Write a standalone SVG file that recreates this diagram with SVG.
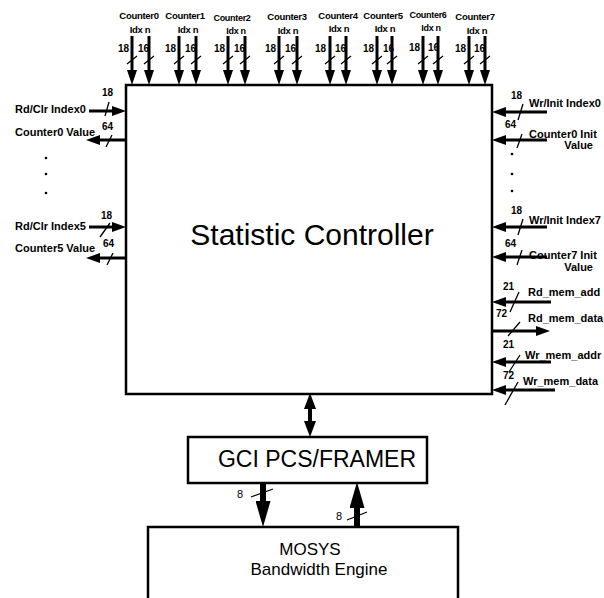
<svg xmlns="http://www.w3.org/2000/svg" width="604" height="598" viewBox="0 0 604 598">
<style>
.box{fill:#fff;stroke:#000;stroke-width:2.5}
.sh{stroke:#000;stroke-width:3;fill:none}
.thick{stroke:#000;stroke-width:6;fill:none}
.mid{stroke:#000;stroke-width:4;fill:none}
.sl{stroke:#000;stroke-width:1.3;fill:none}
.lb{font-family:"Liberation Sans",Arial,sans-serif;font-weight:bold;font-size:11px;fill:#000}
.lt{font-family:"Liberation Sans",Arial,sans-serif;font-weight:bold;font-size:9.5px;fill:#000;letter-spacing:-0.3px}
.nm{font-family:"Liberation Sans",Arial,sans-serif;font-weight:bold;font-size:10px;fill:#000}
.big{font-family:"Liberation Sans",Arial,sans-serif;font-size:30px;fill:#000}
.mdt{font-family:"Liberation Sans",Arial,sans-serif;font-size:23px;fill:#000}
.sm{font-family:"Liberation Sans",Arial,sans-serif;font-size:17px;fill:#000}
.n8{font-family:"Liberation Sans",Arial,sans-serif;font-size:11px;fill:#000}
.dot{fill:#000}
</style>
<defs>
<marker id="ah" markerUnits="userSpaceOnUse" markerWidth="15" markerHeight="10" refX="0" refY="5" orient="auto" viewBox="0 0 15 10">
<path d="M0,0 L15,5 L0,10 z" fill="#000"/>
</marker>
<marker id="ahs" markerUnits="userSpaceOnUse" markerWidth="14" markerHeight="10" refX="0" refY="5" orient="auto" viewBox="0 0 14 10">
<path d="M0,0 L14,5 L0,10 z" fill="#000"/>
</marker>
<marker id="ahb" markerUnits="userSpaceOnUse" markerWidth="26" markerHeight="15" refX="0" refY="7.5" orient="auto" viewBox="0 0 26 15">
<path d="M0,0 L26,7.5 L0,15 z" fill="#000"/>
</marker>
<marker id="ahm" markerUnits="userSpaceOnUse" markerWidth="16" markerHeight="12" refX="0" refY="6" orient="auto" viewBox="0 0 16 12">
<path d="M0,0 L16,6 L0,12 z" fill="#000"/>
</marker>
</defs>
<rect width="604" height="598" fill="#fff"/>

<g id="statistic-controller">
<rect class="box" x="126" y="85" width="366" height="309"/>
<text class="big" x="312" y="245" text-anchor="middle">Statistic Controller</text>
</g>
<g id="gci-pcs-framer">
<rect class="box" x="188" y="437" width="239" height="46"/>
<text class="mdt" x="317" y="467" text-anchor="middle">GCI PCS/FRAMER</text>
</g>
<g id="mosys">
<rect class="box" x="148" y="527" width="310" height="80"/>
<text class="sm" x="310" y="555" text-anchor="middle">MOSYS</text>
<text class="sm" x="319" y="575" text-anchor="middle">Bandwidth Engine</text>
</g>

<g id="top-inputs">
<text class="lt" x="139" y="19" text-anchor="middle">Counter0</text>
<text class="lt" x="140" y="33" text-anchor="middle">Idx n</text>
<text class="lt" x="185" y="19" text-anchor="middle">Counter1</text>
<text class="lt" x="188" y="33" text-anchor="middle">Idx n</text>
<text class="lt" x="232" y="21" text-anchor="middle" style="font-size:9px">Counter2</text>
<text class="lt" x="236" y="34" text-anchor="middle" style="font-size:9px">Idx n</text>
<text class="lt" x="287" y="20" text-anchor="middle">Counter3</text>
<text class="lt" x="288" y="34" text-anchor="middle">Idx n</text>
<text class="lt" x="338" y="19" text-anchor="middle">Counter4</text>
<text class="lt" x="339" y="32" text-anchor="middle">Idx n</text>
<text class="lt" x="383" y="19" text-anchor="middle">Counter5</text>
<text class="lt" x="385" y="32" text-anchor="middle">Idx n</text>
<text class="lt" x="428" y="18" text-anchor="middle" style="font-size:9px">Counter6</text>
<text class="lt" x="431" y="31" text-anchor="middle" style="font-size:9px">Idx n</text>
<text class="lt" x="475" y="20" text-anchor="middle">Counter7</text>
<text class="lt" x="477" y="34" text-anchor="middle">Idx n</text>

<text class="nm" x="129" y="52" text-anchor="end">18</text><text class="nm" x="138" y="52">16</text>
<text class="nm" x="176" y="52" text-anchor="end">18</text><text class="nm" x="185" y="52">16</text>
<text class="nm" x="225" y="52" text-anchor="end">18</text><text class="nm" x="234" y="52">16</text>
<text class="nm" x="276" y="52" text-anchor="end">18</text><text class="nm" x="285" y="52">16</text>
<text class="nm" x="326" y="52" text-anchor="end">18</text><text class="nm" x="335" y="52">16</text>
<text class="nm" x="374" y="52" text-anchor="end">18</text><text class="nm" x="383" y="52">16</text>
<text class="nm" x="420" y="51" text-anchor="end">18</text><text class="nm" x="428" y="51">16</text>
<text class="nm" x="466" y="52" text-anchor="end">18</text><text class="nm" x="474" y="52">16</text>
</g>

<g id="left-ports">
<text class="nm" x="102" y="96">18</text>
<text class="lb" x="15" y="113">Rd/Clr Index0</text>
<text class="nm" x="102" y="130">64</text>
<text class="lb" x="15" y="136">Counter0 Value</text>
<circle class="dot" cx="46" cy="158" r="1.3"/>
<circle class="dot" cx="46" cy="174" r="1.3"/>
<circle class="dot" cx="46" cy="193" r="1.3"/>
<text class="nm" x="101" y="219">18</text>
<text class="lb" x="15" y="230">Rd/Clr Index5</text>
<text class="nm" x="103" y="247">64</text>
<text class="lb" x="15" y="252">Counter5 Value</text>
</g>

<g id="right-ports">
<text class="nm" x="511" y="99">18</text>
<text class="lb" x="529" y="107">Wr/Init Index0</text>
<text class="nm" x="505" y="128">64</text>
<text class="lb" x="529" y="138">Counter0 Init</text>
<text class="lb" x="593" y="149" text-anchor="end">Value</text>
<circle class="dot" cx="512" cy="154" r="1.3"/>
<circle class="dot" cx="512" cy="174" r="1.3"/>
<circle class="dot" cx="512" cy="191" r="1.3"/>
<text class="nm" x="511" y="214">18</text>
<text class="lb" x="529" y="224">Wr/Init Index7</text>
<text class="nm" x="505" y="247">64</text>
<text class="lb" x="529" y="259">Counter7 Init</text>
<text class="lb" x="593" y="271" text-anchor="end">Value</text>
<text class="nm" x="503" y="290">21</text>
<text class="lb" x="528" y="296">Rd_mem_add</text>
<text class="nm" x="496" y="317">72</text>
<text class="lb" x="528" y="322">Rd_mem_data</text>
<text class="nm" x="503" y="348">21</text>
<text class="lb" x="525" y="359">Wr_mem_addr</text>
<text class="nm" x="503" y="379">72</text>
<text class="lb" x="523" y="385">Wr_mem_data</text>
</g>

<g id="connectors">
<!-- top inputs -->
<line class="sh" x1="132" y1="36" x2="132" y2="70" marker-end="url(#ah)"/>
<line class="sh" x1="149" y1="36" x2="149" y2="70" marker-end="url(#ah)"/>
<line class="sh" x1="179" y1="36" x2="179" y2="70" marker-end="url(#ah)"/>
<line class="sh" x1="196" y1="36" x2="196" y2="70" marker-end="url(#ah)"/>
<line class="sh" x1="228" y1="36" x2="228" y2="70" marker-end="url(#ah)"/>
<line class="sh" x1="245" y1="36" x2="245" y2="70" marker-end="url(#ah)"/>
<line class="sh" x1="279" y1="36" x2="279" y2="70" marker-end="url(#ah)"/>
<line class="sh" x1="297" y1="36" x2="297" y2="70" marker-end="url(#ah)"/>
<line class="sh" x1="330" y1="36" x2="330" y2="70" marker-end="url(#ah)"/>
<line class="sh" x1="346" y1="36" x2="346" y2="70" marker-end="url(#ah)"/>
<line class="sh" x1="377" y1="36" x2="377" y2="70" marker-end="url(#ah)"/>
<line class="sh" x1="392" y1="36" x2="392" y2="70" marker-end="url(#ah)"/>
<line class="sh" x1="423" y1="36" x2="423" y2="70" marker-end="url(#ah)"/>
<line class="sh" x1="438" y1="36" x2="438" y2="70" marker-end="url(#ah)"/>
<line class="sh" x1="469" y1="36" x2="469" y2="70" marker-end="url(#ah)"/>
<line class="sh" x1="485" y1="36" x2="485" y2="70" marker-end="url(#ah)"/>
<path class="sl" d="M127,64L137,56M144,64L154,56M174,64L184,56M191,64L201,56M223,64L233,56M240,64L250,56M274,64L284,56M292,64L302,56M325,64L335,56M341,64L351,56M372,64L382,56M387,64L397,56M418,64L428,56M433,64L443,56M464,64L474,56M480,64L490,56"/>
<!-- left -->
<line class="sh" x1="89" y1="111" x2="112" y2="111" marker-end="url(#ahs)"/>
<line class="sh" x1="126" y1="140" x2="100" y2="140" marker-end="url(#ahs)"/>
<line class="sh" x1="89" y1="227" x2="112" y2="227" marker-end="url(#ahs)"/>
<line class="sh" x1="126" y1="258" x2="100" y2="258" marker-end="url(#ahs)"/>
<path class="sl" d="M105,116L109,102M106,147L112,135M100,237L110,223M107,265L113,253"/>
<!-- right -->
<line class="sh" x1="547" y1="112" x2="506" y2="112" marker-end="url(#ahs)"/>
<line class="sh" x1="547" y1="140" x2="506" y2="140" marker-end="url(#ahs)"/>
<line class="sh" x1="547" y1="227" x2="506" y2="227" marker-end="url(#ahs)"/>
<line class="sh" x1="547" y1="257" x2="506" y2="257" marker-end="url(#ahs)"/>
<line class="sh" x1="551" y1="302" x2="506" y2="302" marker-end="url(#ahs)"/>
<line class="sh" x1="492" y1="331" x2="536" y2="331" marker-end="url(#ahs)"/>
<line class="sh" x1="551" y1="362" x2="506" y2="362" marker-end="url(#ahs)"/>
<line class="sh" x1="555" y1="390" x2="506" y2="390" marker-end="url(#ahs)"/>
<path class="sl" d="M518,120L523,104M517,148L522,134M518,235L523,219M517,265L522,250M510,312L519,292M508,336L520,322M509,372L520,355M505,405L518,382"/>
<!-- bottom -->
<line class="mid" x1="310" y1="409" x2="310" y2="421" marker-end="url(#ahm)"/>
<line class="mid" x1="310" y1="421" x2="310" y2="409" marker-end="url(#ahm)"/>
<line class="thick" x1="263" y1="483" x2="263" y2="501" marker-end="url(#ahb)"/>
<line class="thick" x1="357" y1="527" x2="357" y2="508" marker-end="url(#ahb)"/>
<path class="sl" d="M251,497L273,489M347,520L367,512"/>
<text class="n8" x="237" y="498">8</text>
<text class="n8" x="336" y="520">8</text>
</g>
</svg>
